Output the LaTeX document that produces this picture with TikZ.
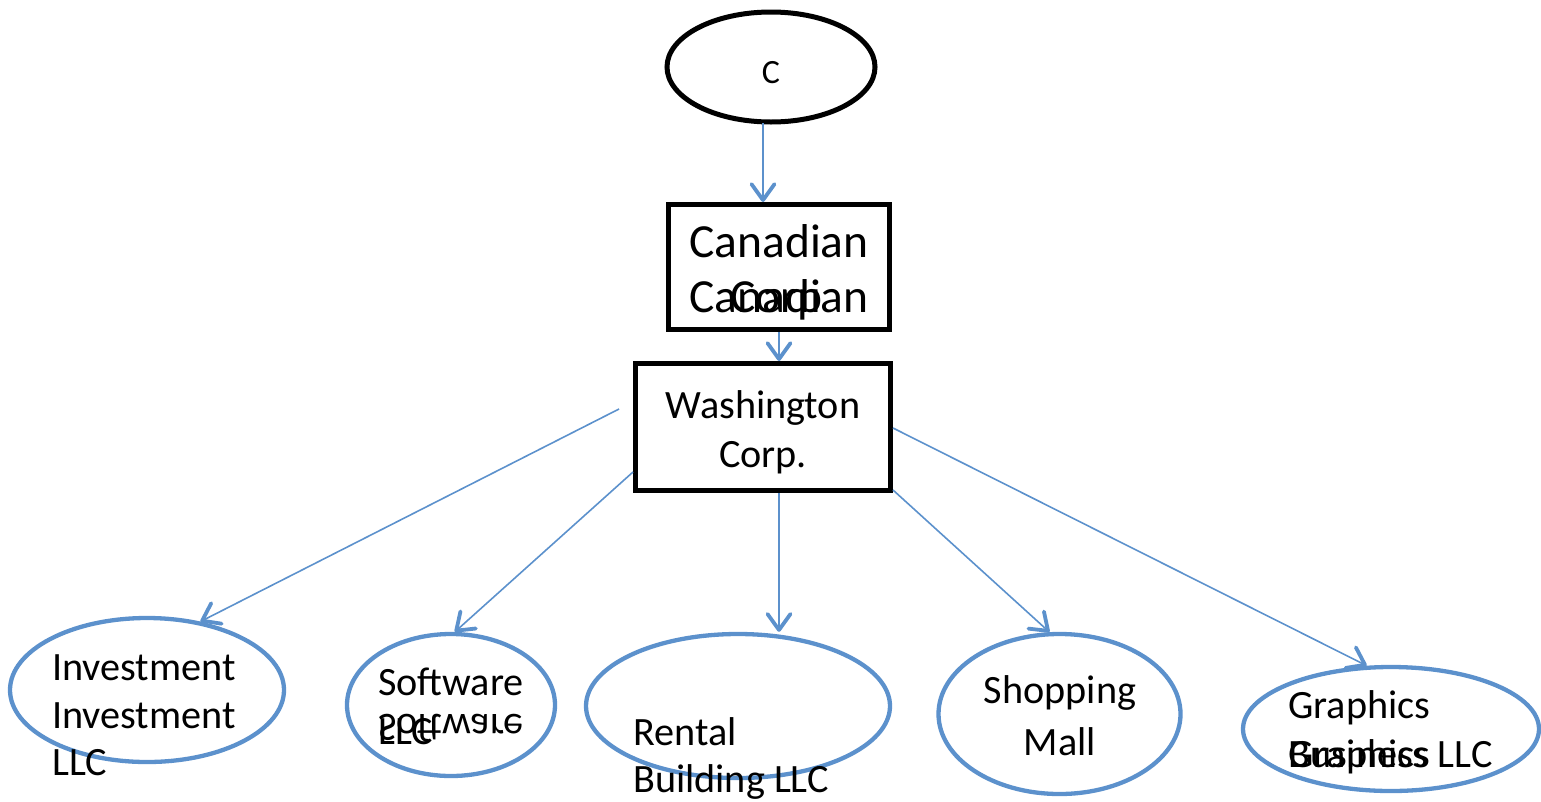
\documentclass[tikz,border=0pt]{standalone}
\usepackage{fontspec}
\setmainfont{Carlito}
\usetikzlibrary{shapes.geometric,arrows.meta}
\definecolor{linkblue}{RGB}{92,145,204}
\tikzset{
  topshape/.style={draw=black,line width=5pt,ellipse,inner sep=0pt},
  boxshape/.style={draw=black,line width=5pt,rectangle,inner sep=0pt},
  leafshape/.style={draw=linkblue,line width=4.3pt,ellipse,inner sep=0pt},
  link/.style={draw=linkblue,line width=1.6pt,
    -{Straight Barb[length=16pt,width=23pt,line width=3.8pt,round]}},
  lbl/.style={inner sep=0pt,font=\fontsize{40.2}{48}\selectfont},
  biglbl/.style={inner sep=0pt,font=\fontsize{47.5}{56}\selectfont},
  smalllbl/.style={inner sep=0pt,font=\fontsize{34}{40}\selectfont},
}
\begin{document}
\begin{tikzpicture}[x=1pt,y=-1pt]
\useasboundingbox (0,0) rectangle (1541,801);

% shapes
\node[topshape,minimum width=208pt,minimum height=110pt] (c) at (771,67) {};
\node[boxshape,minimum width=221pt,minimum height=125pt] (can) at (779,267) {};
\node[boxshape,minimum width=254.5pt,minimum height=127pt] (wash) at (762.75,427) {};
\node[leafshape,minimum width=274pt,minimum height=144pt] (inv) at (147,690) {};
\node[leafshape,minimum width=208pt,minimum height=142pt] (soft) at (451,705) {};
\node[leafshape,minimum width=304pt,minimum height=144pt] (rent) at (738,706) {};
\node[leafshape,minimum width=242pt,minimum height=160pt] (shop) at (1059.5,714) {};
\node[leafshape,minimum width=296pt,minimum height=124pt] (graph) at (1391,729) {};

% labels
\node[smalllbl,anchor=base] (tc) at (771,83) {C};
\node[biglbl,anchor=base] (tcan1) at (779,257) {Canadian};
\node[biglbl,anchor=base] (tcan2) at (779,312) {Canadian};
\node[biglbl,anchor=base west] (tcorp) at (730,312) {Corp};
\node[lbl,anchor=base] (twash1) at (763,418) {Washington};
\node[lbl,anchor=base] (twash2) at (763,467) {Corp.};
\node[lbl,anchor=base west] (tinv1) at (52,680) {Investment};
\node[lbl,anchor=base west] (tinv2) at (52,728) {Investment};
\node[lbl,anchor=base west] (tinv3) at (52,775) {LLC};
\node[lbl,anchor=base west] (tsoft1) at (378,695) {Software};
\node[lbl,anchor=base west,yscale=-1] (tsoft2) at (378,714) {Software};
\node[lbl,anchor=base west] (tsoft3) at (378,744) {LLC};
\node[lbl,anchor=base west] (trent1) at (633,745) {Rental};
\node[lbl,anchor=base west] (trent2) at (633,792) {Building LLC};
\node[lbl,anchor=base] (tshop1) at (1060,703) {Shopping};
\node[lbl,anchor=base] (tshop2) at (1060,755) {Mall};
\node[lbl,anchor=base west] (tgr1) at (1288,718) {Graphics};
\node[lbl,anchor=base west] (tgr2) at (1288,767) {Graphics};
\node[lbl,anchor=base west] (tgr3) at (1288,767) {Business LLC};

% connector start points
\coordinate (cOut) at (763,123);
\coordinate (wInv) at (619,409);
\coordinate (wSoft) at (633,472);
\coordinate (wShop) at (893,490);
\coordinate (wGraph) at (893,428);

% connectors
\draw[link] (cOut) -- (can.north -| cOut);
\draw[link] (can.south) -- (wash.north -| can.south);
\draw[link] (wInv) -- (inv.52);
\draw[link] (wSoft) -- (soft.87);
\draw[link] (wash.south -| can.south) -- (rent.north -| can.south);
\draw[link] (wShop) -- (shop.97);
\draw[link] (wGraph) -- (graph.111);
\end{tikzpicture}
\end{document}
